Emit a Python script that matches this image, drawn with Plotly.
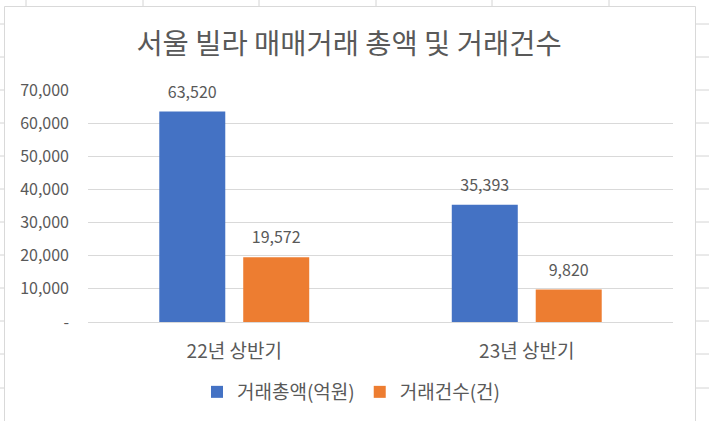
import plotly.graph_objects as go

categories = ["22년 상반기", "23년 상반기"]
series_names = ["거래총액(억원)", "거래건수(건)"]
total_amount = [63520, 35393]
deal_count = [19572, 9820]
ytick_vals = [0, 10000, 20000, 30000, 40000, 50000, 60000, 70000]
ytick_text = ["-", "10,000", "20,000", "30,000", "40,000", "50,000", "60,000", "70,000"]
colors = ["#4472C4", "#ED7D31"]

W, H = 709, 421
L, R, T, B = 88, 36, 90, 99
PW, PH = W - L - R, H - T - B

def fx(px):
    return (px - L) / PW

def fy(py):
    return (H - B - py) / PH

FONT = "Noto Sans CJK KR"
GRAY = "#595959"

fig = go.Figure()
for name, vals, col in zip(series_names, [total_amount, deal_count], colors):
    fig.add_trace(go.Bar(
        name=name, x=categories, y=vals,
        marker=dict(color=col, line=dict(width=0)),
        hoverinfo="x+y+name",
    ))
# data labels aligned with grouped bars
for name, vals in zip(series_names, [total_amount, deal_count]):
    fig.add_trace(go.Scatter(
        x=categories, y=vals, mode="markers+text",
        text=[f"{v:,}" for v in vals], textposition="top center",
        textfont=dict(size=16, color=GRAY, family=FONT),
        marker=dict(size=14, opacity=0), showlegend=False,
        hoverinfo="skip", cliponaxis=False, name=name,
    ))

shapes = []
line_col = "#D4D4D4"
# spreadsheet cell lines visible outside chart box
for x in [26, 143, 259, 376, 492, 609]:
    shapes.append(dict(type="line", xref="paper", yref="paper",
                       x0=fx(x), x1=fx(x), y0=fy(0), y1=fy(6),
                       line=dict(color=line_col, width=1), layer="below"))
for y in [24, 57, 90, 123, 156, 189, 222, 255, 288, 321, 354, 388]:
    shapes.append(dict(type="line", xref="paper", yref="paper",
                       x0=fx(0), x1=fx(4), y0=fy(y), y1=fy(y),
                       line=dict(color=line_col, width=1), layer="below"))
    shapes.append(dict(type="line", xref="paper", yref="paper",
                       x0=fx(696), x1=fx(709), y0=fy(y), y1=fy(y),
                       line=dict(color=line_col, width=1), layer="below"))
# chart box
shapes.append(dict(type="rect", xref="paper", yref="paper",
                   x0=fx(4.5), x1=fx(695.5), y0=fy(425), y1=fy(6.5),
                   line=dict(color="#D9D9D9", width=1), fillcolor="white", layer="below"))

fig.update_layout(
    width=W, height=H,
    margin=dict(l=L, r=R, t=T, b=B, pad=0, autoexpand=False),
    paper_bgcolor="white", plot_bgcolor="rgba(0,0,0,0)",
    font=dict(family=FONT, color=GRAY),
    title=dict(text="서울 빌라 매매거래 총액 및 거래건수", x=349 / W, xanchor="center",
               y=1 - 44.5 / H, yanchor="middle", yref="container",
               font=dict(size=28.5, color=GRAY, family=FONT)),
    barmode="group", bargap=0.426, bargroupgap=0.214,
    scattermode="group", scattergap=0.426,
    xaxis=dict(showgrid=False, showline=True, linecolor="#D9D9D9", linewidth=1,
               ticks="", tickfont=dict(size=19, color=GRAY, family=FONT),
               ticklabelstandoff=12, fixedrange=True, automargin=False),
    yaxis=dict(range=[0, 70000], tickvals=ytick_vals, ticktext=ytick_text,
               showgrid=True, gridcolor="#D9D9D9", gridwidth=1, zeroline=False,
               showline=False, ticks="", tickfont=dict(size=16, color=GRAY, family=FONT),
               ticklabelstandoff=18, fixedrange=True, automargin=False),
    legend=dict(orientation="h", x=fx(351), xanchor="center", yref="container",
                y=1 - 392 / H, yanchor="middle", font=dict(size=19, color=GRAY, family=FONT),
                itemwidth=30, traceorder="normal"),
    showlegend=True,
    shapes=shapes,
)

fig.write_html("out.html", config={"displayModeBar": False},
               post_script="document.body.style.margin='0';")
